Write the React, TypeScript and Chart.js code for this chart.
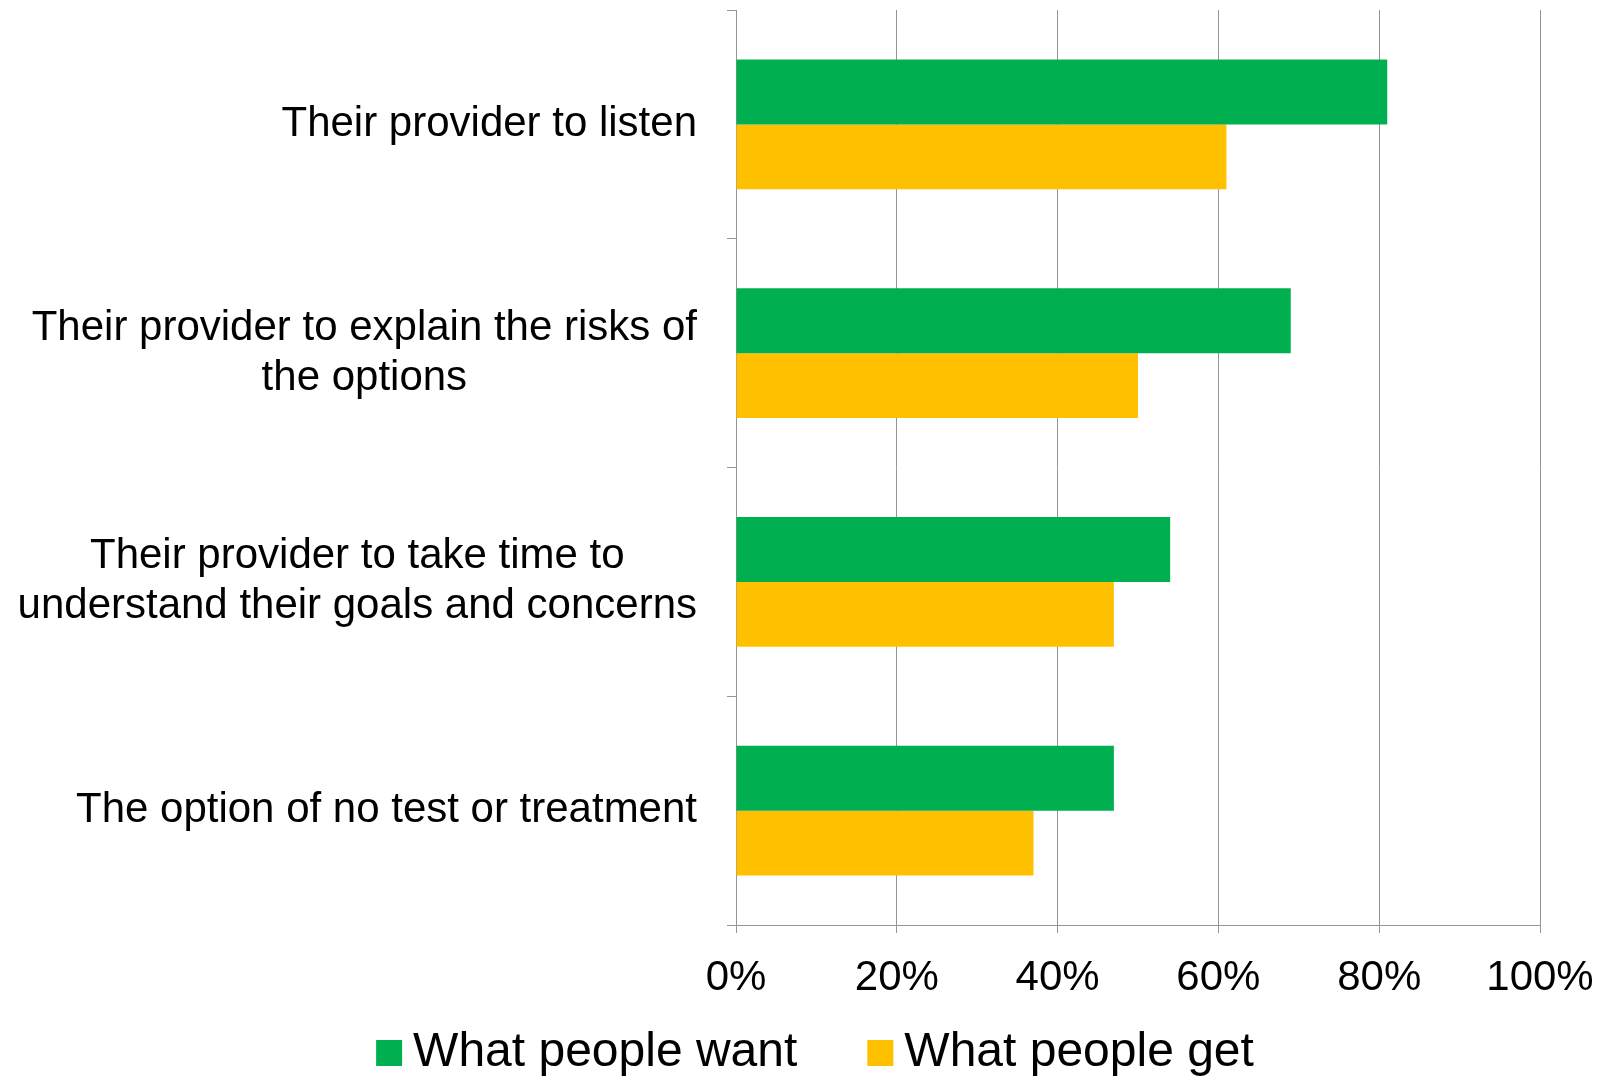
import React, { useEffect, useRef } from 'react';
import { Chart, registerables } from 'chart.js';

Chart.register(...registerables);

const categories: string[][] = [
  ['Their provider to listen'],
  ['Their provider to explain the risks of', 'the options'],
  ['Their provider to take time to', 'understand their goals and concerns'],
  ['The option of no test or treatment'],
];
const seriesNames = ['What people want', 'What people get'];
const wantValues = [81, 69, 54, 47];
const getValues = [61, 50, 47, 37];
const xTicks = [0, 20, 40, 60, 80, 100];
const seriesColors = ['#00B050', '#FFC000'];

const FONT = '"Liberation Sans", Arial, sans-serif';
const GRID = '#959595';

const yLabelPlugin = {
  id: 'multiLineYLabels',
  afterDraw(chart: any) {
    const ctx = chart.ctx;
    const ys = chart.scales.y;
    ctx.save();
    ctx.font = `42px ${FONT}`;
    ctx.fillStyle = '#000';
    ctx.textBaseline = 'middle';
    ctx.textAlign = 'center';
    const right = ys.right - 9 - 30;
    categories.forEach((lines, i) => {
      const w = Math.max(...lines.map((l) => ctx.measureText(l).width));
      const cx = right - w / 2;
      const cy = ys.getPixelForTick(i);
      lines.forEach((l, j) => {
        ctx.fillText(l, cx, cy + (j - (lines.length - 1) / 2) * 50);
      });
    });
    ctx.restore();
  },
};

const legendPlugin = {
  id: 'bottomLegend',
  afterDraw(chart: any) {
    const ctx = chart.ctx;
    const ds = chart.data.datasets;
    const box = 26;
    const gap = 11;
    const itemGap = 70;
    const cy = chart.height - 24;
    ctx.save();
    ctx.font = `48px ${FONT}`;
    ctx.textBaseline = 'middle';
    ctx.textAlign = 'left';
    const widths = ds.map((d: any) => ctx.measureText(d.label).width);
    const total =
      widths.reduce((a: number, w: number) => a + box + gap + w, 0) + itemGap * (ds.length - 1);
    let x = 815 - total / 2;
    ds.forEach((d: any, i: number) => {
      ctx.fillStyle = d.backgroundColor;
      ctx.fillRect(x, cy - box / 2, box, box);
      ctx.fillStyle = '#000';
      ctx.fillText(d.label, x + box + gap, cy);
      x += box + gap + widths[i] + itemGap;
    });
    ctx.restore();
  },
};

export default function App() {
  const ref = useRef<HTMLCanvasElement | null>(null);

  useEffect(() => {
    if (!ref.current) return;
    Chart.defaults.font.family = FONT;
    const chart = new Chart(ref.current, {
      type: 'bar',
      data: {
        labels: categories.map((c) => c.join(' ')),
        datasets: [
          {
            label: seriesNames[0],
            data: wantValues,
            backgroundColor: seriesColors[0],
            borderWidth: 0,
            categoryPercentage: 0.568,
            barPercentage: 1.0,
          },
          {
            label: seriesNames[1],
            data: getValues,
            backgroundColor: seriesColors[1],
            borderWidth: 0,
            categoryPercentage: 0.568,
            barPercentage: 1.0,
          },
        ],
      },
      options: {
        indexAxis: 'y',
        animation: false,
        responsive: true,
        maintainAspectRatio: false,
        layout: { padding: { top: 10, right: 68, bottom: 72, left: 90 } },
        scales: {
          x: {
            min: 0,
            max: 100,
            afterBuildTicks: (s: any) => {
              s.ticks = xTicks.map((v) => ({ value: v }));
            },
            afterFit: (s: any) => {
              s.height = 80;
              s.paddingLeft = 0;
              s.paddingRight = 0;
            },
            ticks: {
              callback: (v: any) => `${v}%`,
              font: { size: 42, family: FONT },
              color: '#000',
              padding: 20,
              maxRotation: 0,
              autoSkip: false,
            },
            grid: { color: GRID, lineWidth: 1, tickLength: 8 },
            border: { color: GRID, width: 1 },
          },
          y: {
            afterFit: (s: any) => {
              s.width = 646;
            },
            ticks: { display: false },
            grid: { drawOnChartArea: false, color: GRID, lineWidth: 1, tickLength: 9 },
            border: { color: GRID, width: 1 },
          },
        },
        plugins: {
          tooltip: { enabled: false },
          legend: { display: false },
        },
      },
      plugins: [yLabelPlugin, legendPlugin],
    } as any);
    return () => chart.destroy();
  }, []);

  return (
    <div
      style={{
        position: 'fixed',
        left: 0,
        top: 0,
        width: 1608,
        height: 1077,
        background: '#fff',
      }}
    >
      <canvas ref={ref} />
    </div>
  );
}
